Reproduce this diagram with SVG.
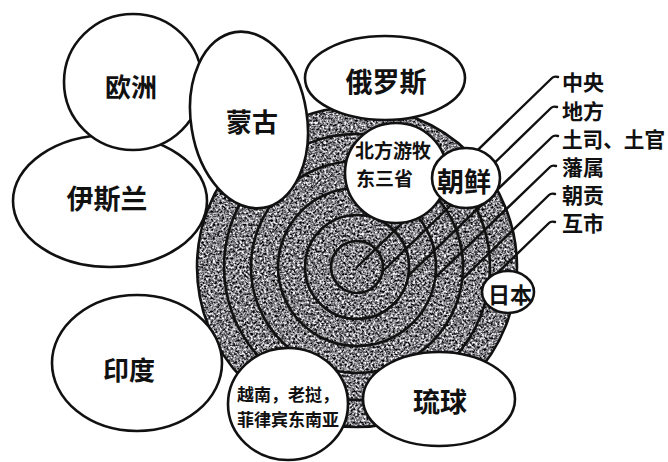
<svg xmlns="http://www.w3.org/2000/svg" width="668" height="462" viewBox="0 0 668 462">
<style>
.node{fill:#fff;stroke:#111;stroke-width:2.6}
.ring{fill:none;stroke:#111;stroke-width:2.6}
.lead{fill:none;stroke:#111;stroke-width:2.4;stroke-linecap:round;stroke-linejoin:round}
text{font-family:"Noto Sans CJK SC","Noto Sans CJK TC",sans-serif;fill:#111;font-weight:bold}
.c{text-anchor:middle;dominant-baseline:central}
.l{text-anchor:start;dominant-baseline:central}
</style>
<defs>
<filter id="grain" x="0" y="0" width="1" height="1" color-interpolation-filters="sRGB">
<feTurbulence type="fractalNoise" baseFrequency="0.45" numOctaves="3" seed="7" result="n"/>
<feColorMatrix in="n" type="matrix" values="2 0 0 0 -0.5  2 0 0 0 -0.5  2 0 0 0 -0.48  0 0 0 0 1" result="g"/>
<feComposite in="g" in2="SourceGraphic" operator="in"/>
</filter>
</defs>
<rect width="668" height="462" fill="#fff"/>
<g id="zones">
<circle cx="357" cy="267" r="160" fill="#000" filter="url(#grain)"/>
<circle class="ring" cx="357" cy="267" r="160"/>
<circle class="ring" cx="357" cy="267" r="133"/>
<circle class="ring" cx="357" cy="267" r="106"/>
<circle class="ring" cx="357" cy="267" r="79"/>
<circle class="ring" cx="357" cy="267" r="52"/>
<circle class="ring" cx="357" cy="267" r="26"/>
</g>
<g id="connectors">
<path class="lead" d="M357 267 L552 78 q2 -2 6 -1"/>
<path class="lead" d="M382.6 271.5 L551 108 q2 -2 6 -1"/>
<path class="lead" d="M408.2 275.8 L552 137 q2 -2 6 -1"/>
<path class="lead" d="M435.4 277.4 L550 167 q2 -2 6 -1"/>
<path class="lead" d="M462.3 279.1 L549 195 q2 -2 6 -1"/>
<path class="lead" d="M489.3 280.8 L549 223 q2 -2 6 -1"/>
</g>
<g id="n-yisilan"><ellipse class="node" cx="110" cy="201" rx="97" ry="66"/><text class="c" x="107" y="197" font-size="27">伊斯兰</text></g>
<g id="n-ouzhou"><ellipse class="node" cx="133" cy="82" rx="69" ry="68"/><text class="c" x="131" y="85" font-size="26">欧洲</text></g>
<g id="n-menggu"><ellipse class="node" cx="249" cy="120" rx="58" ry="89" transform="rotate(-9 249 120)"/><text class="c" x="252" y="120" font-size="26">蒙古</text></g>
<g id="n-eluosi"><ellipse class="node" cx="385" cy="78" rx="80" ry="42"/><text class="c" x="386" y="80" font-size="27">俄罗斯</text></g>
<g id="n-beifang"><ellipse class="node" cx="396" cy="173" rx="51" ry="50"/><text class="l" x="355" y="149" font-size="19">北方游牧</text><text class="l" x="356" y="177" font-size="19">东三省</text></g>
<g id="n-chaoxian"><ellipse class="node" cx="466" cy="178" rx="34" ry="30"/><text class="c" x="464" y="180" font-size="27">朝鲜</text></g>
<g id="n-riben"><ellipse class="node" cx="508" cy="292" rx="26" ry="21"/><text class="c" x="510" y="293" font-size="22">日本</text></g>
<g id="n-yindu"><ellipse class="node" cx="137" cy="363" rx="85" ry="68"/><text class="c" x="129" y="368" font-size="26">印度</text></g>
<g id="n-yuenan"><ellipse class="node" cx="288" cy="404" rx="60" ry="56"/><text class="c" x="288" y="393" font-size="17">越南，老挝，</text><text class="c" x="288" y="418" font-size="17">菲律宾东南亚</text></g>
<g id="n-liuqiu"><ellipse class="node" cx="439" cy="399" rx="76" ry="47"/><text class="c" x="440" y="400" font-size="27">琉球</text></g>
<g id="labels">
<g id="lb-zhongyang"><text class="l" x="562" y="81" font-size="21">中央</text></g>
<g id="lb-difang"><text class="l" x="562" y="110" font-size="21">地方</text></g>
<g id="lb-tusi"><text class="l" x="562" y="138" font-size="21" textLength="103" lengthAdjust="spacingAndGlyphs">土司、土官</text></g>
<g id="lb-fanshu"><text class="l" x="562" y="166" font-size="21">藩属</text></g>
<g id="lb-chaogong"><text class="l" x="562" y="194" font-size="21">朝贡</text></g>
<g id="lb-hushi"><text class="l" x="562" y="222" font-size="21">互市</text></g>
</g>
</svg>
